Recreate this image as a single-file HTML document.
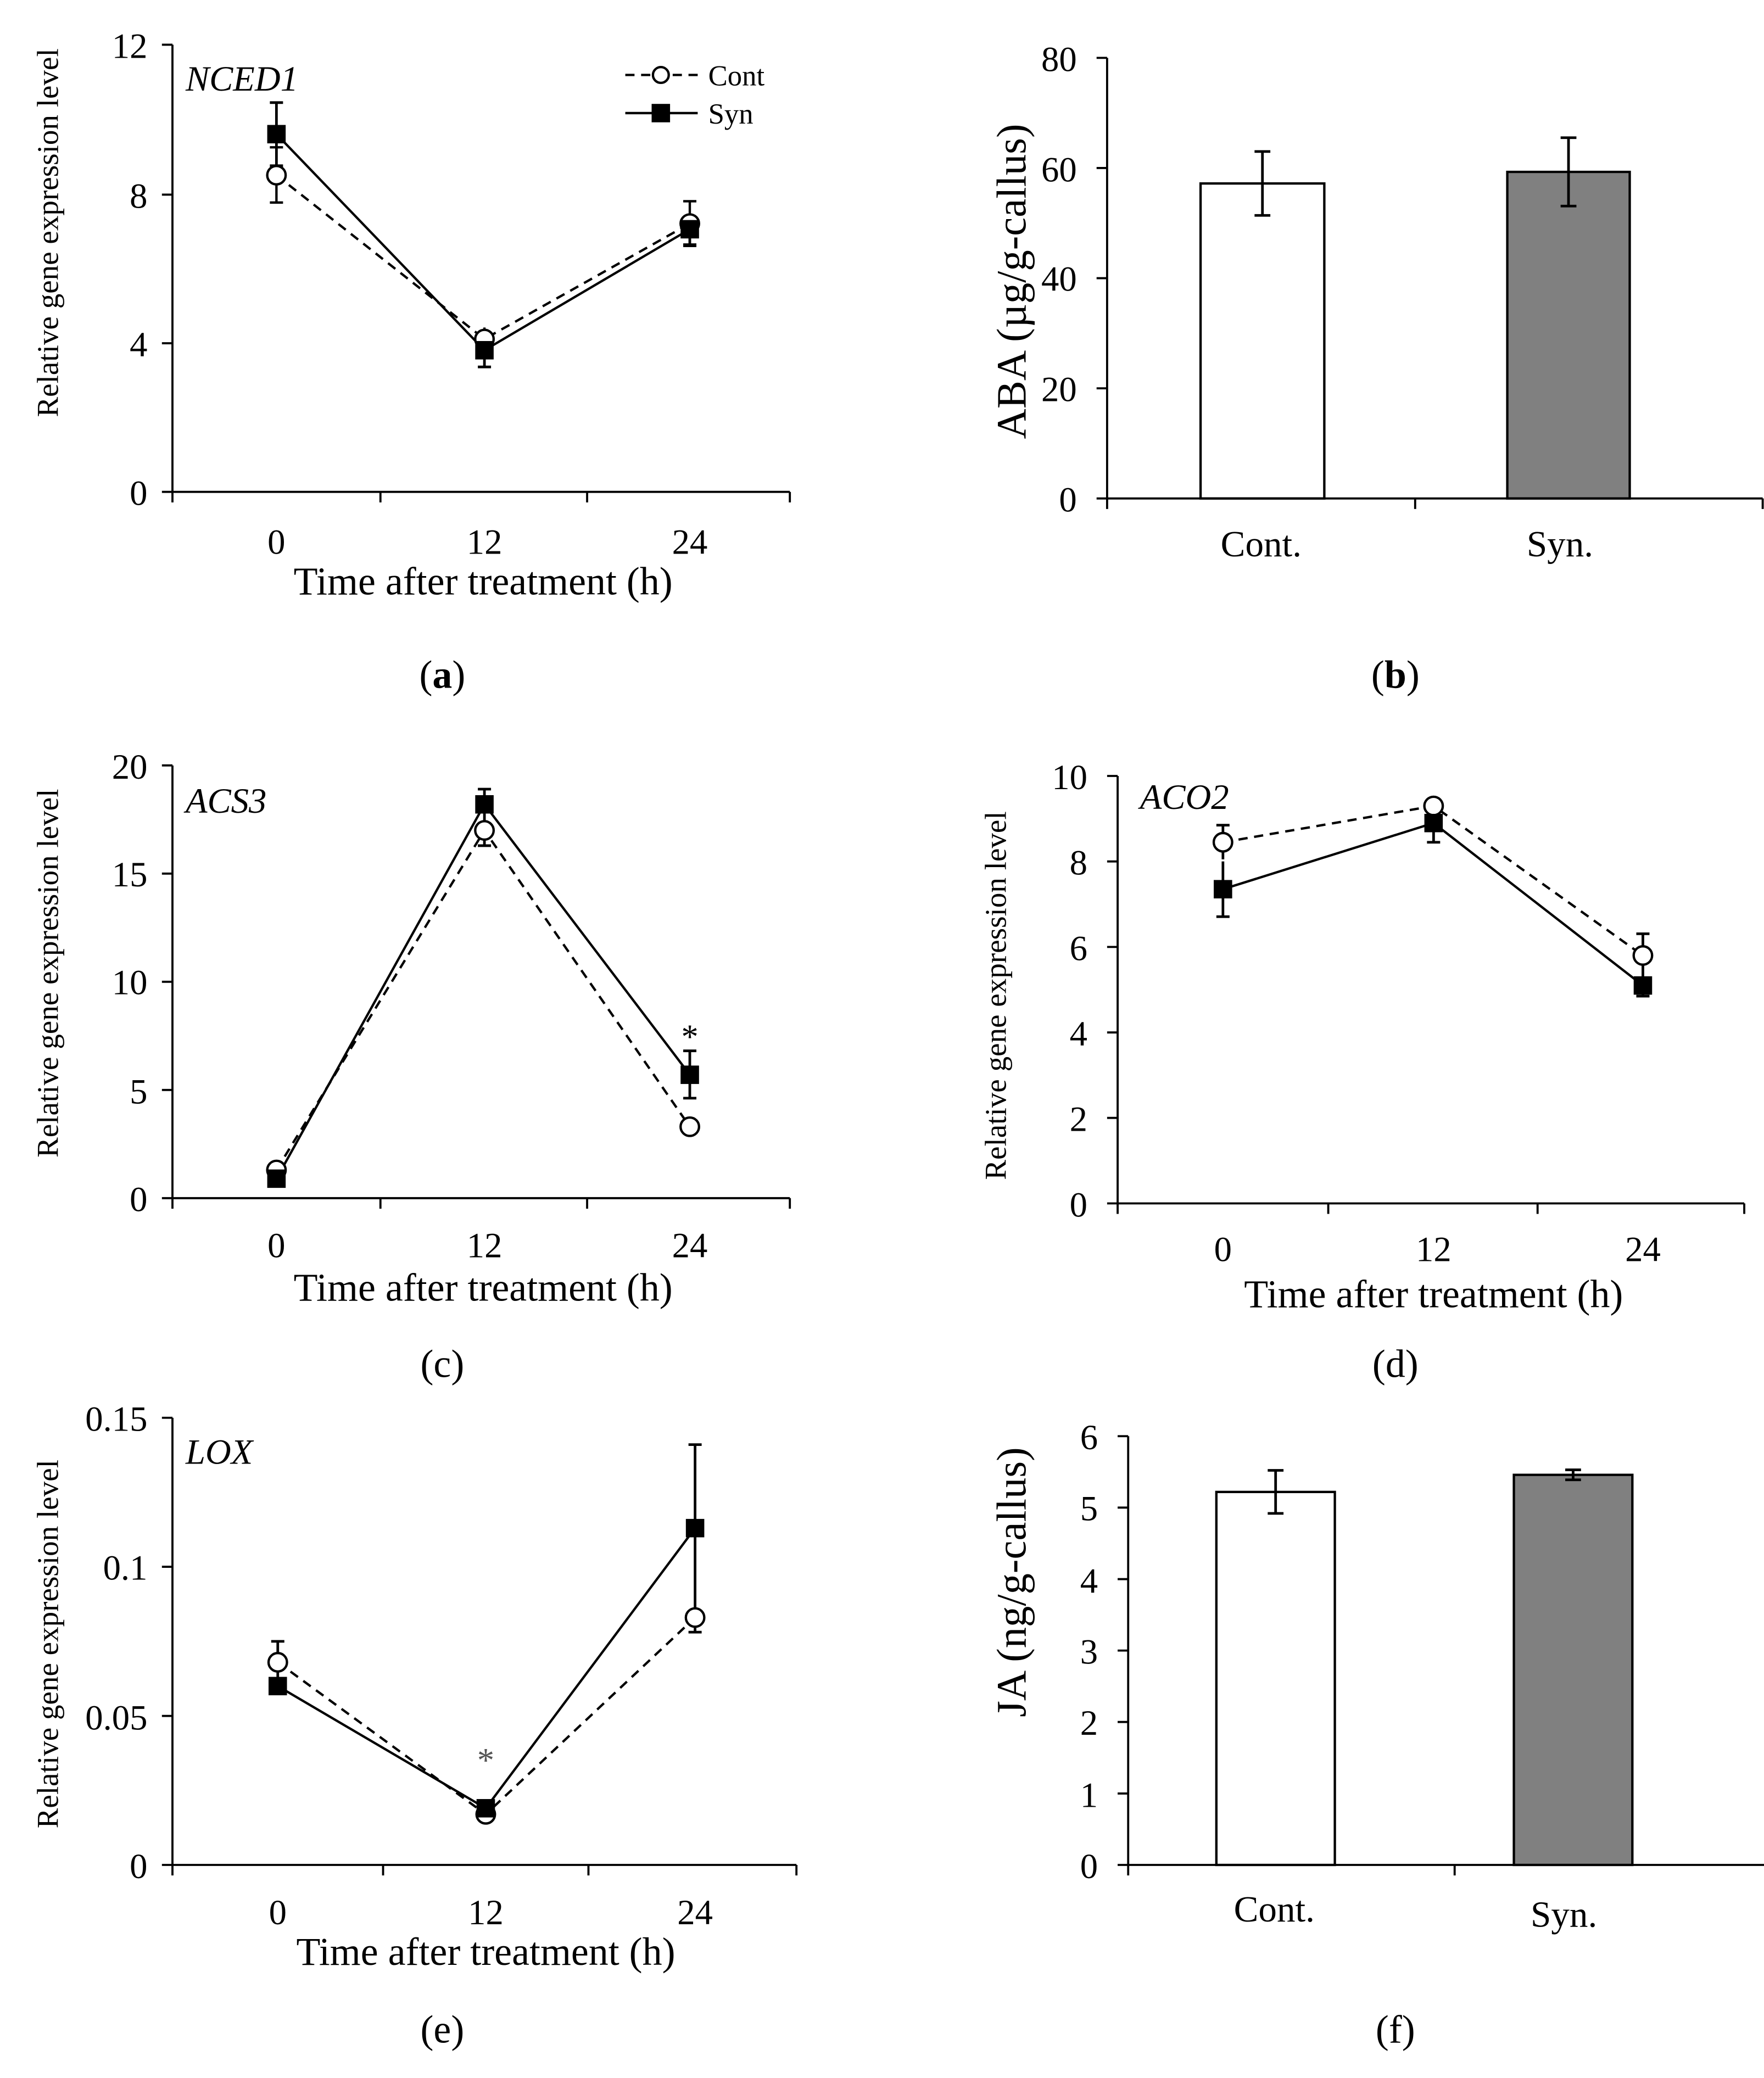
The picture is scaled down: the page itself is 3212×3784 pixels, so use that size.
<!DOCTYPE html>
<html><head><meta charset="utf-8"><style>
html,body{margin:0;padding:0;background:#fff}
svg{display:block}
text{font-family:"Liberation Serif",serif;fill:#000}
</style></head><body>
<svg width="3212" height="3784" viewBox="0 0 1340 1580" preserveAspectRatio="none" xmlns="http://www.w3.org/2000/svg">
<g stroke="#000" stroke-width="1.6" fill="none">
<path d="M131 34V374M123 374H600M123 34H131M123 148H131M123 261H131M131 374v8M289 374v8M446 374v8M600 374v8"/>
<path d="M841 44V379M833 379H1339M833 44H841M833 127.75H841M833 211.5H841M833 295.25H841M841 379v8M1075 379v8M1339 379v8"/>
<path d="M131 582V911M123 911H600M123 582H131M123 664.25H131M123 746.5H131M123 828.75H131M131 911v8M289 911v8M446 911v8M600 911v8"/>
<path d="M849 590V915M841 915H1325M841 590H849M841 655H849M841 720H849M841 785H849M841 850H849M849 915v8M1009 915v8M1168 915v8M1325 915v8"/>
<path d="M131 1078V1418M123 1418H605M123 1078H131M123 1191.3H131M123 1304.7H131M131 1418v8M291 1418v8M447 1418v8M605 1418v8"/>
<path d="M857 1092V1418M849 1418H1355M849 1092H857M849 1146.3H857M849 1200.7H857M849 1255H857M849 1309.3H857M849 1363.7H857M857 1418v8M1105 1418v8M1355 1418v8"/>
</g>

<g font-size="27" text-anchor="end">
<text x="112" y="44">12</text><text x="112" y="158">8</text><text x="112" y="271">4</text><text x="112" y="384">0</text>
<text x="818" y="54">80</text><text x="818" y="138">60</text><text x="818" y="221">40</text><text x="818" y="305">20</text><text x="818" y="389">0</text>
<text x="112" y="592">20</text><text x="112" y="674">15</text><text x="112" y="756">10</text><text x="112" y="839">5</text><text x="112" y="921">0</text>
<text x="826" y="600">10</text><text x="826" y="665">8</text><text x="826" y="730">6</text><text x="826" y="795">4</text><text x="826" y="860">2</text><text x="826" y="925">0</text>
<text x="112" y="1088">0.15</text><text x="112" y="1201">0.1</text><text x="112" y="1315">0.05</text><text x="112" y="1428">0</text>
<text x="834" y="1102">6</text><text x="834" y="1156">5</text><text x="834" y="1211">4</text><text x="834" y="1265">3</text><text x="834" y="1319">2</text><text x="834" y="1374">1</text><text x="834" y="1428">0</text>
</g>
<g font-size="27" text-anchor="middle">
<text x="210" y="421">0</text><text x="368" y="421">12</text><text x="524" y="421">24</text>
<text x="210" y="956">0</text><text x="368" y="956">12</text><text x="524" y="956">24</text>
<text x="929" y="959">0</text><text x="1089" y="959">12</text><text x="1248" y="959">24</text>
<text x="211" y="1463">0</text><text x="369" y="1463">12</text><text x="528" y="1463">24</text>
</g>
<g font-size="28" text-anchor="middle">
<text x="958" y="423">Cont.</text><text x="1185" y="423">Syn.</text>
<text x="968" y="1461">Cont.</text><text x="1188" y="1465">Syn.</text>
</g>
<g font-size="30" text-anchor="middle">
<text x="367" y="452">Time after treatment (h)</text>
<text x="367" y="989">Time after treatment (h)</text>
<text x="1089" y="994">Time after treatment (h)</text>
<text x="369" y="1494">Time after treatment (h)</text>
</g>
<g font-size="23" text-anchor="middle">
<text transform="translate(44 177) rotate(-90)">Relative gene expression level</text>
<text transform="translate(44 740) rotate(-90)">Relative gene expression level</text>
<text transform="translate(764 757) rotate(-90)">Relative gene expression level</text>
<text transform="translate(44 1250) rotate(-90)">Relative gene expression level</text>
</g>
<g font-size="32" text-anchor="middle">
<text transform="translate(779 214) rotate(-90)">ABA (µg/g-callus)</text>
<text transform="translate(779 1203) rotate(-90)">JA (ng/g-callus)</text>
</g>
<g font-size="27" font-style="italic">
<text x="141" y="69">NCED1</text><text x="141" y="618">ACS3</text><text x="866" y="615">ACO2</text><text x="141" y="1113">LOX</text>
</g>
<g font-size="30" text-anchor="middle">
<text x="336" y="523">(<tspan font-weight="bold">a</tspan>)</text>
<text x="1060" y="523">(<tspan font-weight="bold">b</tspan>)</text>
<text x="336" y="1047">(c)</text><text x="1060" y="1047">(d)</text>
<text x="336" y="1553">(e)</text><text x="1060" y="1553">(f)</text>
</g>

<g stroke="#000" stroke-width="1.8" fill="none">
<path d="M475 57H530" stroke-dasharray="7 5"/>
<path d="M475 86H530"/>
</g>
<circle cx="502" cy="57" r="6" fill="#fff" stroke="#000" stroke-width="1.8"/>
<rect x="495" y="79" width="14" height="14" fill="#000"/>
<text x="538" y="65" font-size="22">Cont</text>
<text x="538" y="94" font-size="22">Syn</text>

<rect x="912" y="139.5" width="94" height="239.5" fill="#fff" stroke="#000" stroke-width="1.8"/>
<rect x="1145" y="130.7" width="93" height="248.3" fill="#808080" stroke="#000" stroke-width="1.8"/>
<g stroke="#000" stroke-width="2"><path d="M959 115.2V163.8M953 115.2h12M953 163.8h12M1191.5 104.7V156.7M1185.5 104.7h12M1185.5 156.7h12"/></g>
<rect x="924" y="1134.4" width="90" height="283.6" fill="#fff" stroke="#000" stroke-width="1.8"/>
<rect x="1150" y="1121.4" width="90" height="296.6" fill="#808080" stroke="#000" stroke-width="1.8"/>
<g stroke="#000" stroke-width="2"><path d="M969 1118V1150.7M963 1118h12M963 1150.7h12M1195 1117.6V1125.2M1189 1117.6h12M1189 1125.2h12"/></g>

<g stroke="#000" stroke-width="1.8" fill="none">
<path d="M210 133.2L368 257.8L524 170" stroke-dasharray="7 5"/>
<path d="M210 102L368 266.3L524 174.3"/>
<path d="M210 112V154M205 112h10M205 154h10M368 249V266M524 153V187M519 153h10M519 187h10"/>
<path d="M210 78V126M205 78h10M205 126h10M368 253.5V279M363 279h10M363 253.5h10M524 163V186M519 186h10" stroke-width="2"/>
<path d="M210 889.6L368 631.4L524 856.7" stroke-dasharray="7 5"/>
<path d="M210 896.2L368 611.6L524 817.2"/>
<path d="M368 620V643M363 643h10M368 600V623M363 600h10M524 799V835M519 799h10M519 835h10" stroke-width="2"/>
<path d="M929 640.4L1089 612.8L1248 726.5" stroke-dasharray="7 5"/>
<path d="M929 676.1L1089 625.8L1248 749.3"/>
<path d="M929 627.4V653.4M924 627.4h10M1248 710V743M1243 710h10M929 655V697M924 697h10M1089 611V640.4M1084 640.4h10M1248 741V757.4M1243 757.4h10" stroke-width="2"/>
<path d="M211 1263.9L369 1379.5L528 1229.9" stroke-dasharray="7 5"/>
<path d="M211 1282L369 1374.9L528 1161.9"/>
<path d="M211 1248V1280M206 1248h10M528 1218.6V1241M523 1241h10M528 1098.4V1225M523 1098.4h10" stroke-width="2"/>
</g>
<g fill="#fff" stroke="#000" stroke-width="1.8">
<circle cx="210" cy="133.2" r="7"/><circle cx="368" cy="257.8" r="7"/><circle cx="524" cy="170" r="7"/>
<circle cx="210" cy="889.6" r="7"/><circle cx="368" cy="631.4" r="7"/><circle cx="524" cy="856.7" r="7"/>
<circle cx="929" cy="640.4" r="7"/><circle cx="1089" cy="612.8" r="7"/><circle cx="1248" cy="726.5" r="7"/>
<circle cx="211" cy="1263.9" r="7"/><circle cx="369" cy="1379.5" r="7"/><circle cx="528" cy="1229.9" r="7"/>
</g>
<g fill="#000">
<rect x="203" y="95" width="14" height="14"/><rect x="361" y="259.3" width="14" height="14"/><rect x="517" y="167.3" width="14" height="14"/>
<rect x="203" y="889.2" width="14" height="14"/><rect x="361" y="604.6" width="14" height="14"/><rect x="517" y="810.2" width="14" height="14"/>
<rect x="922" y="669.1" width="14" height="14"/><rect x="1082" y="618.8" width="14" height="14"/><rect x="1241" y="742.3" width="14" height="14"/>
<rect x="204" y="1275" width="14" height="14"/><rect x="362" y="1367.9" width="14" height="14"/><rect x="521" y="1154.9" width="14" height="14"/>
</g>
<text x="524" y="797" font-size="26" text-anchor="middle">*</text>
<text x="369" y="1347" font-size="26" text-anchor="middle" style="fill:#555">*</text>
</svg>
</body></html>
